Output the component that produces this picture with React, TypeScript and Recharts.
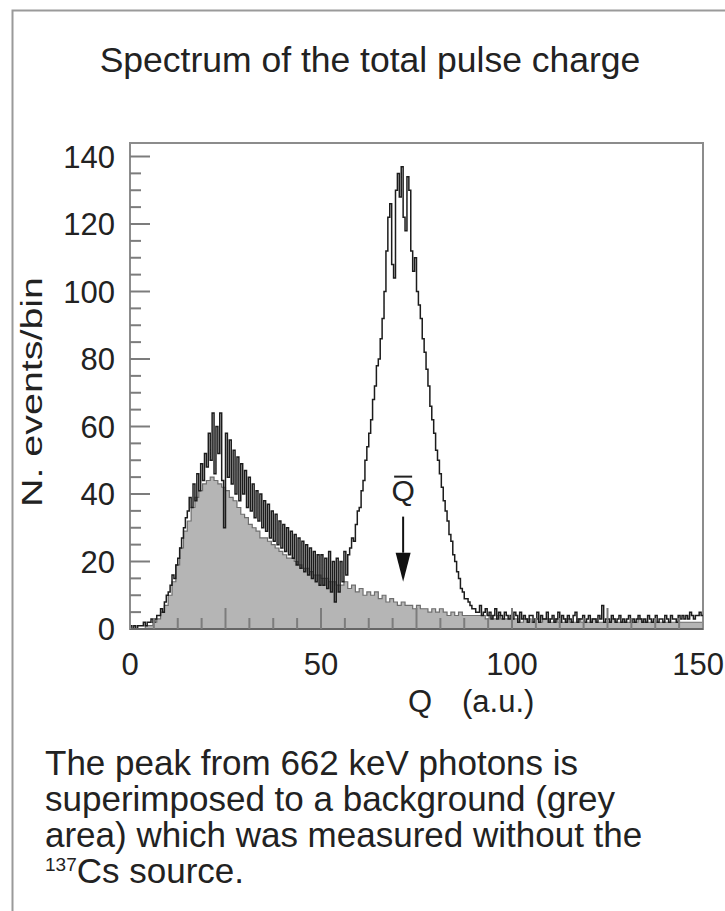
import React from "react";
import {
  ComposedChart,
  Area,
  Line,
  XAxis,
  YAxis,
  ReferenceArea,
  ReferenceDot,
  ReferenceLine,
} from "recharts";

// ---- data ----
// total spectrum: bins of 0.5 a.u. starting at Q = 0
const TOTAL_BIN = 0.5;
const TOTAL_COUNTS = [
  1, 0, 1, 0, 1, 1, 1, 2, 1, 2,
  2, 3, 2, 3, 4, 4, 6, 5, 8, 10,
  11, 13, 16, 15, 19, 21, 24, 27, 30, 33,
  35, 39, 36, 43, 38, 46, 41, 49, 44, 52,
  48, 58, 50, 64, 46, 60, 52, 64, 44, 30,
  58, 45, 56, 43, 53, 40, 51, 38, 49, 40,
  47, 36, 45, 35, 43, 33, 41, 32, 40, 30,
  38, 29, 37, 27, 35, 26, 34, 25, 32, 24,
  31, 23, 30, 22, 29, 21, 28, 19, 27, 18,
  26, 17, 25, 16, 24, 15, 23, 14, 22, 13,
  22, 13, 21, 12, 23, 11, 20, 8, 21, 11,
  20, 14, 23, 16, 22, 24, 27, 26, 31, 35,
  36, 41, 44, 50, 54, 58, 62, 68, 72, 78,
  80, 86, 92, 100, 112, 122, 126, 108, 104, 130,
  135, 128, 137, 122, 118, 134, 130, 112, 106, 110,
  100, 96, 92, 86, 82, 77, 72, 66, 62, 58,
  53, 50, 46, 42, 38, 35, 32, 28, 26, 22,
  20, 17, 15, 12, 11, 9, 9, 8, 7, 6,
  6, 5, 5, 7, 4, 5, 6, 4, 5, 3,
  4, 6, 3, 5, 4, 3, 5, 4, 3, 4,
  3, 5, 4, 2, 5, 3, 4, 3, 2, 4,
  4, 2, 3, 5, 2, 4, 3, 3, 5, 2,
  3, 4, 2, 3, 5, 2, 4, 3, 2, 4,
  3, 2, 4, 5, 2, 3, 3, 4, 2, 3,
  4, 2, 3, 3, 2, 4, 3, 7, 2, 3,
  3, 2, 4, 3, 2, 3, 4, 2, 3, 2,
  3, 4, 2, 3, 2, 3, 4, 3, 2, 3,
  2, 4, 3, 2, 3, 4, 2, 3, 3, 2,
  4, 3, 2, 4, 3, 3, 2, 4, 3, 4,
  3, 4, 3, 5, 4, 3, 4, 4, 5, 4,
];
// background (no source): bins of 1 a.u. starting at Q = 0
const BG_BIN = 1;
const BACKGROUND_COUNTS = [
  0, 0, 0, 0, 1, 1, 2, 3, 5, 7,
  10, 14, 19, 24, 29, 32, 36, 39, 41, 43,
  44, 45, 44, 43, 42, 41, 39, 38, 36, 34,
  33, 31, 30, 29, 27, 27, 26, 25, 24, 23,
  22, 21, 21, 20, 19, 18, 18, 17, 16, 16,
  15, 15, 14, 14, 13, 13, 14, 12, 13, 11,
  12, 10, 11, 10, 11, 9, 10, 8, 9, 8,
  7, 8, 7, 7, 6, 7, 6, 6, 5, 6,
  5, 6, 5, 4, 5, 4, 5, 4, 4, 4,
  4, 4, 4, 3, 4, 3, 4, 3, 3, 3,
  3, 3, 2, 3, 3, 2, 3, 2, 3, 3,
  2, 3, 2, 2, 3, 2, 2, 3, 2, 2,
  2, 3, 2, 2, 2, 2, 3, 2, 2, 2,
  2, 2, 2, 3, 2, 2, 2, 2, 2, 2,
  2, 2, 2, 2, 2, 2, 2, 2, 2, 2,
];
const X_TICKS = [0, 6.25, 12.5, 18.75, 25, 31.25, 37.5, 43.75, 50, 56.25, 62.5, 68.75, 75, 81.25, 87.5, 93.75, 100, 106.25, 112.5, 118.75, 125, 131.25, 137.5, 143.75, 150];
const Y_TICKS = [0, 5, 10, 15, 20, 25, 30, 35, 40, 45, 50, 55, 60, 65, 70, 75, 80, 85, 90, 95, 100, 105, 110, 115, 120, 125, 130, 135, 140];
const X_LABELED = [0, 50, 100, 150];
const X_MAJOR = [0, 25, 50, 75, 100, 125, 150];
const Y_LABELED = [0, 20, 40, 60, 80, 100, 120, 140];
const X_MAX = 150;
const Y_MAX = 144;
const QBAR = 71.5;
const QBAR_LABEL_Y = 41;
const ARROW_TOP = 33.3;
const ARROW_HEAD = 22.6;
const ARROW_TIP = 14;

const TITLE = "Spectrum of the total pulse charge";
const Y_LABEL = "N. events/bin";
const X_LABEL_VAR = "Q";
const X_LABEL_UNIT = "(a.u.)";
const CAPTION = [
  "The peak from 662 keV photons is",
  "superimposed to a background (grey",
  "area) which was measured without the",
];
const CAPTION_SUP = "137";
const CAPTION_LAST = "Cs source.";

const totalRows = TOTAL_COUNTS.map((t, i) => ({ q: i * TOTAL_BIN, total: t }));
totalRows.push({ q: X_MAX, total: TOTAL_COUNTS[TOTAL_COUNTS.length - 1] });
const bgRows = BACKGROUND_COUNTS.map((b, i) => ({ q: i * BG_BIN, bg: b }));
bgRows.push({ q: X_MAX, bg: BACKGROUND_COUNTS[BACKGROUND_COUNTS.length - 1] });

const FONT = "'Liberation Sans', Arial, Helvetica, sans-serif";
const TICK_COLOR = "#7c7c7c";
const TEXT = "#222";

const YTick = (props: any) => {
  const { x, y, payload } = props;
  const v = payload.value;
  const major = v % 20 === 0;
  return (
    <g>
      {v !== 0 && (
        <line x1={x} x2={x + (major ? 20 : 11)} y1={y} y2={y} stroke={TICK_COLOR} strokeWidth={2} />
      )}
      {Y_LABELED.includes(v) && (
        <text x={x - 15} y={y} dy="0.36em" textAnchor="end" fontSize={31} fontFamily={FONT} fill={TEXT}>
          {v}
        </text>
      )}
    </g>
  );
};

const XTick = (props: any) => {
  const { x, y, payload } = props;
  const v = payload.value;
  const major = X_MAJOR.includes(v);
  const last = v === X_MAX;
  return (
    <g>
      {v !== 0 && !last && (
        <line x1={x} x2={x} y1={y} y2={y - (major ? 21 : 11)} stroke={TICK_COLOR} strokeWidth={2} />
      )}
      {X_LABELED.includes(v) && (
        <text
          x={last ? x + 21 : x}
          y={y + 46}
          textAnchor={last ? "end" : "middle"}
          fontSize={31}
          fontFamily={FONT}
          fill={TEXT}
        >
          {v}
        </text>
      )}
    </g>
  );
};

const QbarLabel = (p: any) => (
  <g>
    <text x={p.cx} y={p.cy} dy="0.36em" textAnchor="middle" fontSize={30} fontFamily={FONT} fill={TEXT}>
      Q
    </text>
    <line x1={p.cx - 9} x2={p.cx + 9} y1={p.cy - 14} y2={p.cy - 14} stroke={TEXT} strokeWidth={2} />
  </g>
);

const ArrowHead = (p: any) => (
  <path d={`M ${p.cx} ${p.cy} L ${p.cx - 7.5} ${p.cy - 29} L ${p.cx + 7.5} ${p.cy - 29} Z`} fill="#111" />
);

export default function App() {
  return (
    <div style={{ position: "absolute", left: 0, top: 0, width: 725, height: 911, background: "#fff", overflow: "hidden" }}>
      <ComposedChart
        width={725}
        height={911}
        data={totalRows}
        margin={{ top: 143, right: 22, bottom: 242, left: 70 }}
      >
        <Area
          data={bgRows}
          type="stepAfter"
          dataKey="bg"
          stroke="#6e6e6e"
          strokeWidth={1.2}
          fill="#b5b5b5"
          fillOpacity={1}
          isAnimationActive={false}
          dot={false}
          activeDot={false}
        />
        <Line
          data={totalRows}
          type="stepAfter"
          dataKey="total"
          stroke="#1c1c1c"
          strokeWidth={1.5}
          dot={false}
          activeDot={false}
          isAnimationActive={false}
        />
        <ReferenceArea x1={0} x2={X_MAX} y1={0} y2={Y_MAX} fill="none" stroke="#8c8c8c" strokeWidth={2} />
        <XAxis
          type="number"
          dataKey="q"
          domain={[0, X_MAX]}
          ticks={X_TICKS}
          interval={0}
          tickSize={0}
          tickMargin={0}
          height={40}
          axisLine={{ stroke: "#666", strokeWidth: 2 }}
          tickLine={false}
          tick={XTick}
          allowDataOverflow
        />
        <YAxis
          type="number"
          domain={[0, Y_MAX]}
          ticks={Y_TICKS}
          interval={0}
          tickSize={0}
          tickMargin={0}
          width={60}
          axisLine={{ stroke: "#8c8c8c", strokeWidth: 2 }}
          tickLine={false}
          tick={YTick}
          allowDataOverflow
        />
        <ReferenceLine
          segment={[
            { x: QBAR, y: ARROW_TOP },
            { x: QBAR, y: ARROW_HEAD },
          ]}
          stroke="#111"
          strokeWidth={2}
        />
        <ReferenceDot x={QBAR} y={ARROW_TIP} shape={ArrowHead} />
        <ReferenceDot x={QBAR} y={QBAR_LABEL_Y} shape={QbarLabel} />
      </ComposedChart>
      <svg
        width={725}
        height={911}
        style={{ position: "absolute", left: 0, top: 0, pointerEvents: "none" }}
      >
        <path d="M 12.5 911 L 12.5 10.5 L 725 10.5" fill="none" stroke="#9a9a9a" strokeWidth={2} />
        <text x={370} y={72} textAnchor="middle" fontSize={35.5} fontFamily={FONT} fill={TEXT}>
          {TITLE}
        </text>
        <text
          x={0}
          y={0}
          transform="translate(31 392) rotate(-90)"
          textAnchor="middle"
          dy="0.36em"
          fontSize={30}
          fontFamily={FONT}
          fill={TEXT}
          textLength={230}
          lengthAdjust="spacingAndGlyphs"
        >
          {Y_LABEL}
        </text>
        <text x={408} y={712} fontSize={31} fontFamily={FONT} fill={TEXT}>{X_LABEL_VAR}</text>
        <text x={462} y={712} fontSize={31} fontFamily={FONT} fill={TEXT}>{X_LABEL_UNIT}</text>
        {CAPTION.map((line, i) => (
          <text key={i} x={45} y={775 + i * 36} fontSize={35} fontFamily={FONT} fill={TEXT}>
            {line}
          </text>
        ))}
        <text x={45} y={775 + 3 * 36} fontSize={35} fontFamily={FONT} fill={TEXT}>
          <tspan fontSize={19} dy={-12}>{CAPTION_SUP}</tspan>
          <tspan dy={12}>{CAPTION_LAST}</tspan>
        </text>
      </svg>
    </div>
  );
}
